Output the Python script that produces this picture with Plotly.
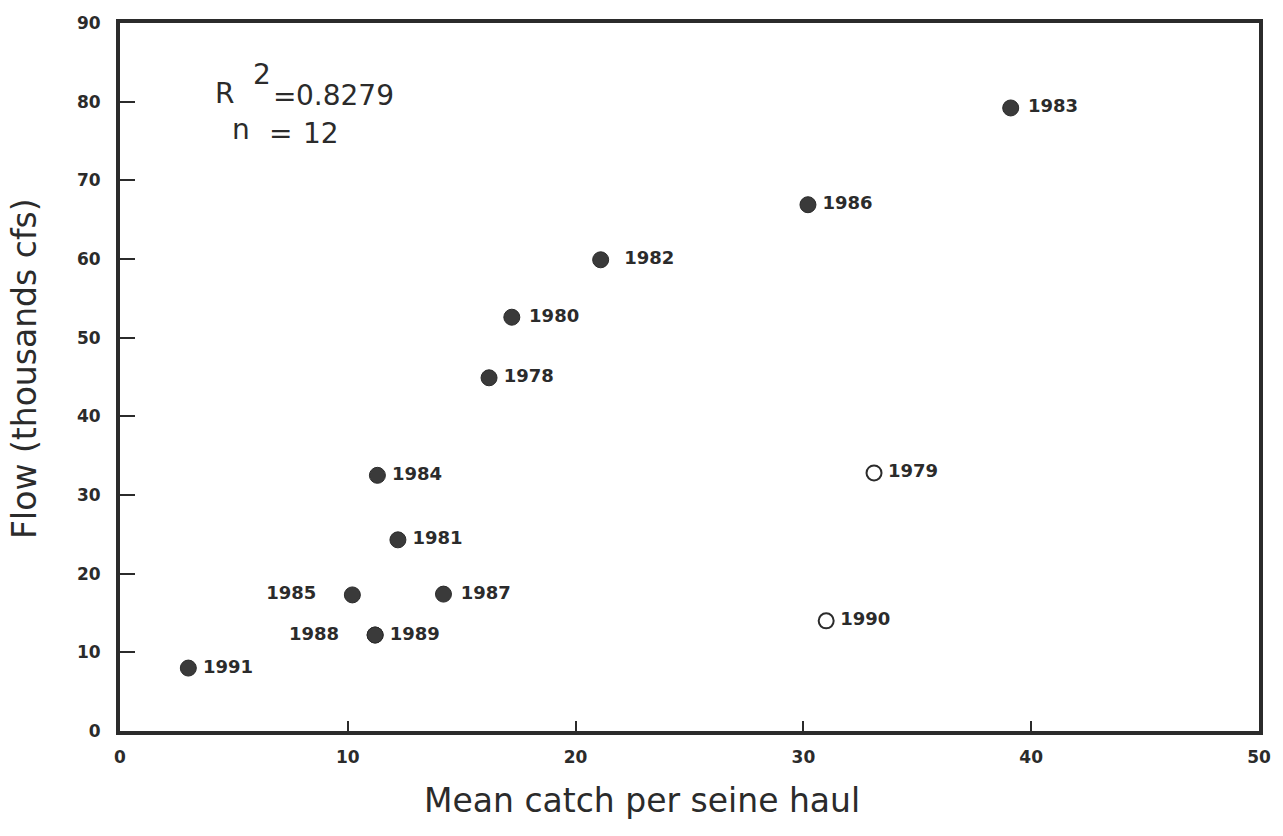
import plotly.graph_objects as go

# Filled points (years) - mean catch per seine haul vs flow (thousands cfs)
filled_years = ["1983", "1986", "1982", "1980", "1978", "1984", "1981", "1985", "1987", "1988", "1989", "1991"]
filled_catch = [39.1, 30.2, 21.1, 17.2, 16.2, 11.3, 12.2, 10.2, 14.2, 11.2, 11.2, 3.0]
filled_flow = [79.2, 66.9, 59.9, 52.6, 44.9, 32.5, 24.3, 17.3, 17.4, 12.2, 12.2, 8.0]

# Open points
open_years = ["1979", "1990"]
open_catch = [33.1, 31.0]
open_flow = [32.8, 14.0]

x_ticks = [0, 10, 20, 30, 40, 50]
y_ticks = [0, 10, 20, 30, 40, 50, 60, 70, 80, 90]

# ---- styling ----
ink = "#2b2b2b"
base_font = "DejaVu Sans, Liberation Sans, Arial, sans-serif"
SP, TH = " ", "\u2009"
left_side = {"1985", "1988"}
pad_right = {"1983": SP, "1982": SP + SP, "1980": SP, "1987": SP}


def label(t):
    if t in left_side:
        return t + SP * 4
    return pad_right.get(t, TH) + t


fig = go.Figure()
fig.add_trace(go.Scatter(
    x=filled_catch, y=filled_flow, mode="markers+text",
    text=[label(t) for t in filled_years],
    textposition=["middle left" if t in left_side else "middle right" for t in filled_years],
    textfont=dict(family=base_font, size=18, color=ink, weight="bold"),
    marker=dict(size=16, color="#3a3a3a", line=dict(color=ink, width=1)),
    showlegend=False, cliponaxis=False,
))
fig.add_trace(go.Scatter(
    x=open_catch, y=open_flow, mode="markers+text",
    text=[label(t) for t in open_years], textposition="middle right",
    textfont=dict(family=base_font, size=18, color=ink, weight="bold"),
    marker=dict(size=15, color="white", line=dict(color=ink, width=2)),
    showlegend=False, cliponaxis=False,
))

ann_font = dict(family=base_font, size=28, color=ink)
for txt, ax, ay in [
    ("R", 0.0820, 0.901),
    ("2", 0.1151, 0.927),
    ("=", 0.1325, 0.8955),
    ("0.8279", 0.1526, 0.898),
    ("n", 0.0970, 0.849),
    ("=", 0.129, 0.844),
    ("12", 0.1587, 0.8446),
]:
    fig.add_annotation(x=ax, y=ay, xref="paper", yref="paper", text=txt,
                       showarrow=False, font=ann_font, xanchor="left", yanchor="middle")

# axis titles (placed as in the scanned original)
fig.add_annotation(x=0.458, y=-0.0975, xref="paper", yref="paper",
                   text="Mean catch per seine haul", showarrow=False,
                   font=dict(family=base_font, size=33, color=ink),
                   xanchor="center", yanchor="middle")
fig.add_annotation(x=-0.0837, y=0.511, xref="paper", yref="paper",
                   text="Flow (thousands cfs)", showarrow=False, textangle=-90,
                   font=dict(family=base_font, size=33, color=ink),
                   xanchor="center", yanchor="middle")

fig.update_xaxes(
    range=[0, 50], tickvals=x_ticks, ticktext=[str(v) for v in x_ticks],
    showline=True, linewidth=4, linecolor=ink, mirror=True,
    ticks="inside", ticklen=10, tickwidth=2, tickcolor=ink,
    ticklabelstandoff=8,
    showgrid=False, zeroline=False,
    tickfont=dict(family=base_font, size=17, color=ink, weight="bold"),
)
fig.update_yaxes(
    range=[0, 90], tickvals=y_ticks, ticktext=[str(v) for v in y_ticks],
    showline=True, linewidth=4, linecolor=ink, mirror=True,
    ticks="inside", ticklen=15, tickwidth=2, tickcolor=ink,
    ticklabelstandoff=12,
    showgrid=False, zeroline=False,
    tickfont=dict(family=base_font, size=17, color=ink, weight="bold"),
)

fig.update_layout(
    width=1283, height=836,
    margin=dict(l=120, r=16, t=23, b=105),
    plot_bgcolor="white", paper_bgcolor="white",
)

fig.write_html("out.html")
